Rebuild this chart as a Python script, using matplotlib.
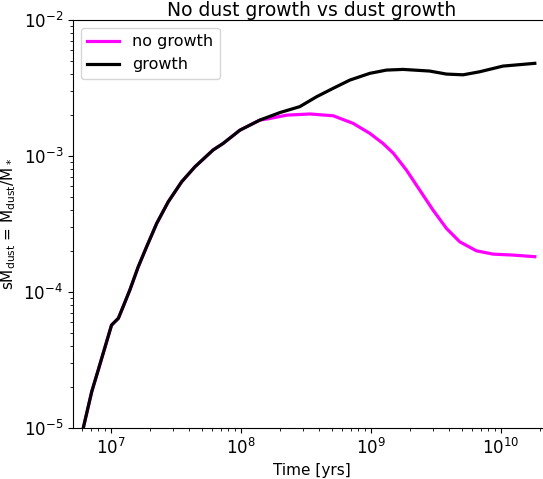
import matplotlib
matplotlib.use('Agg')
import matplotlib.pyplot as plt

# Shared early evolution (both runs identical until ~1.5e8 yr).
t_shared = [6.12e6, 7.11e6, 7.98e6, 1.01e7, 1.14e7, 1.24e7, 1.40e7, 1.62e7,
            1.88e7, 2.25e7, 2.76e7, 3.50e7, 4.43e7, 6.12e7, 7.31e7, 9.82e7,
            1.40e8]
m_shared = [1.0e-5, 1.85e-5, 2.67e-5, 5.71e-5, 6.41e-5, 7.80e-5, 1.04e-4, 1.53e-4,
            2.15e-4, 3.20e-4, 4.61e-4, 6.47e-4, 8.34e-4, 1.11e-3, 1.24e-3, 1.55e-3,
            1.84e-3]

# With dust growth.
t_growth = [2.00e8, 2.84e8, 3.82e8, 5.13e8, 6.89e8, 9.82e8, 1.32e9, 1.77e9,
            2.84e9, 3.82e9, 5.13e9, 6.89e9, 1.04e10, 1.83e10]
m_growth = [2.09e-3, 2.31e-3, 2.73e-3, 3.15e-3, 3.62e-3, 4.06e-3, 4.29e-3, 4.34e-3,
            4.22e-3, 4.01e-3, 3.96e-3, 4.17e-3, 4.59e-3, 4.81e-3]

# Without dust growth.
t_nogrowth = [1.67e8, 2.25e8, 3.40e8, 5.13e8, 7.31e8, 9.82e8, 1.24e9, 1.49e9,
              1.88e9, 2.38e9, 3.01e9, 3.82e9, 4.84e9, 6.50e9, 8.73e9, 1.24e10,
              1.83e10]
m_nogrowth = [1.89e-3, 2.00e-3, 2.04e-3, 1.98e-3, 1.74e-3, 1.47e-3, 1.24e-3, 1.05e-3,
              7.89e-4, 5.62e-4, 4.01e-4, 2.94e-4, 2.34e-4, 2.01e-4, 1.90e-4, 1.87e-4,
              1.82e-4]

fig = plt.figure(figsize=(5.43, 4.79), dpi=100)
# Right spine falls just past the image edge, as in the reference.
ax = fig.add_axes([0.1344, 0.1065, 0.880, 0.8515])

ax.plot(t_shared + t_nogrowth, m_shared + m_nogrowth, color='#ff00ff', lw=2.3,
        label='no growth')
ax.plot(t_shared + t_growth, m_shared + m_growth, color='black', lw=2.3,
        label='growth')

ax.set_xscale('log')
ax.set_yscale('log')
ax.set_xlim(5.1e6, 2.43e10)
ax.set_ylim(1e-5, 1e-2)

ax.tick_params(labelsize=12)
ax.set_xlabel('Time [yrs]', fontsize=11)
ax.set_ylabel(r'sM$_{\rm dust}$ = M$_{\rm dust}$/M$_*$', fontsize=11)
ax.set_title('No dust growth vs dust growth', fontsize=13.5, pad=3)
ax.legend(loc='upper left', fontsize=11.5)

fig.savefig('out.png', dpi=100)
